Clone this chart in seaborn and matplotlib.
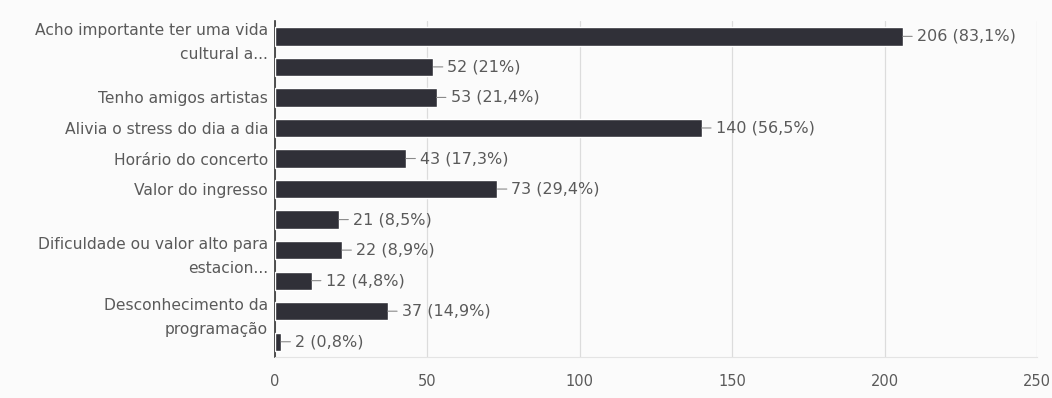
import matplotlib
matplotlib.use("Agg")
import matplotlib.pyplot as plt
import seaborn as sns
import pandas as pd

# dados (respostas de um formulário)
labels = [
    "Acho importante ter uma vida\ncultural a...",
    "",
    "Tenho amigos artistas",
    "Alivia o stress do dia a dia",
    "Horário do concerto",
    "Valor do ingresso",
    "",
    "Dificuldade ou valor alto para\nestacion...",
    "",
    "Desconhecimento da\nprogramação",
    "",
]
counts = [206, 52, 53, 140, 43, 73, 21, 22, 12, 37, 2]
percents = ["83,1%", "21%", "21,4%", "56,5%", "17,3%", "29,4%",
            "8,5%", "8,9%", "4,8%", "14,9%", "0,8%"]
x_ticks = [0, 50, 100, 150, 200, 250]

BAR = "#303038"
TEXT = "#5a5a5a"

df = pd.DataFrame({"item": [str(i) for i in range(len(counts))], "count": counts})

sns.set_style("white")
plt.rcParams["font.family"] = ["DejaVu Sans"]

fig = plt.figure(figsize=(10.52, 3.98), dpi=100, facecolor="#fbfbfb")
ax = fig.add_axes([0.2614, 0.103, 0.7243, 0.844])
ax.set_facecolor("#fbfbfb")

sns.barplot(data=df, x="count", y="item", orient="h", color=BAR,
            saturation=1, width=0.6, ax=ax, zorder=3)

ax.set_xlim(0, 250)
ax.set_xticks(x_ticks)
ax.set_xticklabels([str(t) for t in x_ticks], color=TEXT, fontsize=10.5)
ax.set_yticks(range(len(labels)))
ax.set_yticklabels(labels, color=TEXT, fontsize=11.2, linespacing=1.75)
ax.set_xlabel("")
ax.set_ylabel("")

ax.grid(axis="x", color="#dcdcdc", lw=0.9, zorder=0)
for s in ["top", "right"]:
    ax.spines[s].set_visible(False)
ax.spines["bottom"].set_color("#e4e4e4")
ax.spines["left"].set_color("#333333")
ax.spines["left"].set_linewidth(1.2)
ax.tick_params(axis="y", length=3, width=0.8, color="#555555", pad=2)
ax.tick_params(axis="x", length=0, pad=12)

# rótulos de valor com traço guia
for i, (c, p) in enumerate(zip(counts, percents)):
    ax.annotate(f"{c} ({p})", xy=(c, i), xytext=(14, 0),
                textcoords="offset pixels", ha="left", va="center",
                fontsize=11.5, color=TEXT,
                arrowprops=dict(arrowstyle="-", color="#8a8a8a", lw=0.8,
                                shrinkA=1, shrinkB=0))

fig.savefig("out.png", dpi=100, facecolor=fig.get_facecolor())
